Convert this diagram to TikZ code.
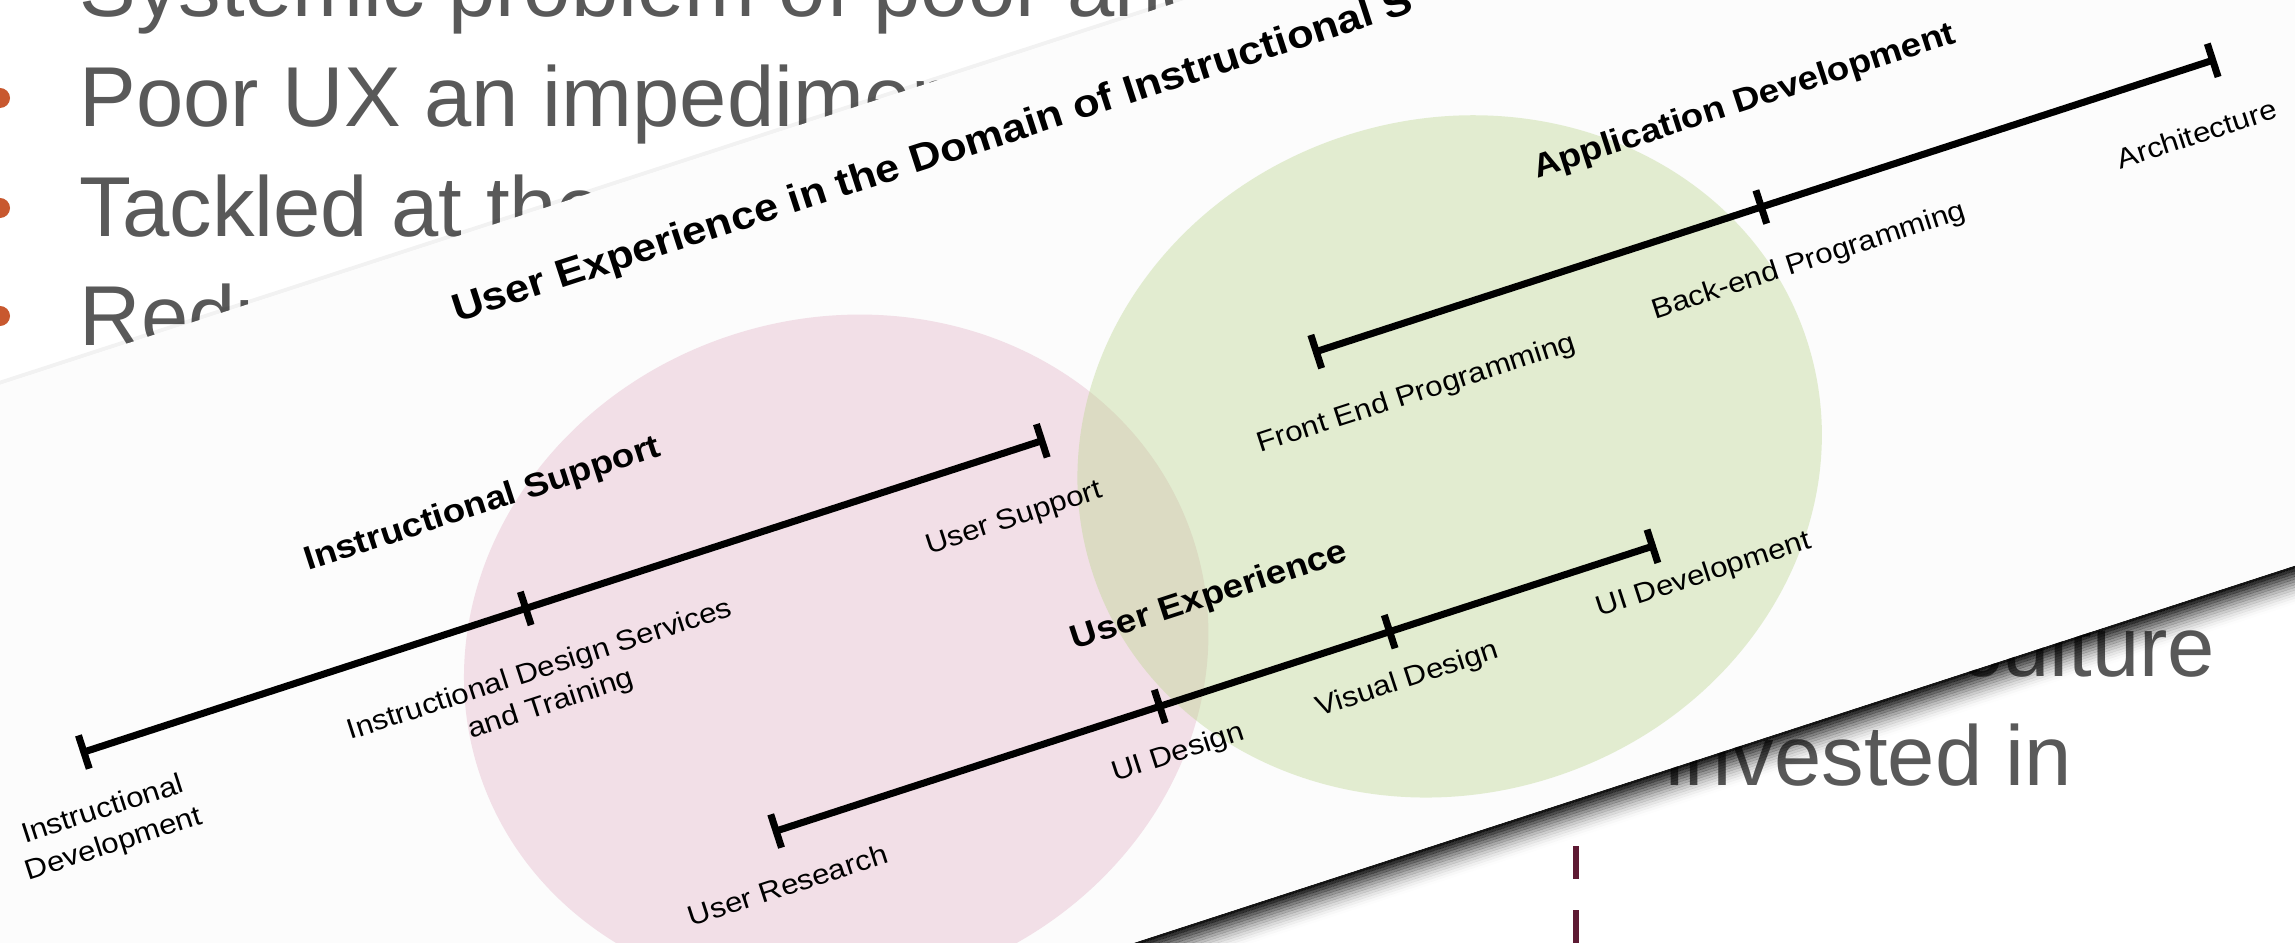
\documentclass[tikz,border=0pt]{standalone}
\usepackage{fontspec}
\setmainfont{Liberation Sans}
\usetikzlibrary{calc}
\definecolor{slidegray}{RGB}{89,89,89}
\definecolor{bulletc}{RGB}{200,88,47}
\definecolor{dashmaroon}{RGB}{94,26,51}
\definecolor{cardc}{RGB}{252,252,252}
\definecolor{pinkc}{RGB}{242,223,231}
\definecolor{greenc}{RGB}{187,214,142}
\tikzset{
  slidetext/.style={anchor=base west, inner sep=0pt, text=slidegray, font=\fontsize{24.18}{29}\selectfont},
  bulletdot/.style={fill=bulletc},
  scalebar/.style={line width=2pt},
  ticksty/.style={line width=2pt},
  titlelabel/.style={anchor=base west, inner sep=0pt, font=\bfseries\fontsize{11.1}{13}\selectfont},
  sectlabel/.style={anchor=base, inner sep=0pt, font=\bfseries\fontsize{9.4}{11}\selectfont},
  smalllabel/.style={anchor=base, inner sep=0pt, align=center, font=\fontsize{7.97}{10.24}\selectfont},
}
\begin{document}
\begin{tikzpicture}[x=0.01cm, y=-0.01cm]
\useasboundingbox (0,0) rectangle (2295,943);
\clip (0,0) rectangle (2295,943);
\fill[white] (0,0) rectangle (2295,943);

% slide bullets and text
\fill[bulletdot] (0,98) circle (0.1cm);
\fill[bulletdot] (0,208) circle (0.1cm);
\fill[bulletdot] (0,316) circle (0.1cm);
\node[slidetext] (l1) at (79,17) {Systemic problem of poor and};
\node[slidetext] (l2) at (79,127) {Poor UX an impediment};
\node[slidetext] (l3) at (79,237) {Tackled at the};
\node[slidetext] (l4) at (79,345) {Reduce};
\node[slidetext] (l5) at (1959,676) {culture};
\node[slidetext] (l6) at (1665,785) {invested in};
\coordinate (dashtop) at (1576,846);
\coordinate (dashbot) at (1576,980);
\draw[dashmaroon, line width=1.7pt, dash pattern=on 9.4pt off 8.8pt] (dashtop) -- (dashbot);

% the card
\begin{scope}[rotate=18, xscale=1.114, transform shape]
  \foreach \i in {0,...,13}{
    \pgfmathsetmacro\op{0.92*(1-\i/14)^1.8}
    \fill[black, opacity=\op] (-700,{1247+2.6*\i}) rectangle (2400,{1249.8+2.6*\i});
  }
  \fill[black, opacity=0.05] (-700,362) rectangle (2400,366);
  \fill[cardc] (-700,366) rectangle (2400,1247);
  \fill[pinkc] (532,882) circle (3.37cm);
  \fill[greenc, opacity=0.4] (1111,882) circle (3.37cm);

  \coordinate (isA) at (-137,741);
  \coordinate (isB) at (280,741);
  \coordinate (isC) at (767,741);
  \coordinate (adA) at (1026,741);
  \coordinate (adB) at (1446,741);
  \coordinate (adC) at (1872,741);
  \coordinate (uxA) at (432,1030);
  \coordinate (uxB) at (794,1030);
  \coordinate (uxC) at (1011,1030);
  \coordinate (uxD) at (1259,1030);
  \draw[scalebar] (isA) -- (isC);
  \draw[scalebar] (adA) -- (adC);
  \draw[scalebar] (uxA) -- (uxD);
  \foreach \c in {isA,isB,isC,adA,adB,adC,uxA,uxB,uxC,uxD}{
    \draw[ticksty] (\c) ++(0,-17.5) -- ++(0,35);
  }

  \node[titlelabel] (title) at (300,448) {User Experience in the Domain of Instructional S};
  \node[sectlabel] (isL) at (272,638) {Instructional Support};
  \node[sectlabel] (adL) at (1461,645) {Application Development};
  \node[sectlabel] (uxL) at (867,950) {User Experience};

  \node[smalllabel] (isAL) at (-137,846) {Instructional\\Development};
  \node[smalllabel] (isBL) at (275,848) {Instructional Design Services\\and Training};
  \node[smalllabel] (isCL) at (722,814) {User Support};
  \node[smalllabel] (adAL) at (1100,820) {Front End Programming};
  \node[smalllabel] (adBL) at (1472,815) {Back-end Programming};
  \node[smalllabel] (adCL) at (1838,816) {Architecture};
  \node[smalllabel] (uxAL) at (427,1095) {User Research};
  \node[smalllabel] (uxBL) at (797,1088) {UI Design};
  \node[smalllabel] (uxCL) at (1013,1089) {Visual Design};
  \node[smalllabel] (uxDL) at (1295,1081) {UI Development};
\end{scope}
\end{tikzpicture}
\end{document}
